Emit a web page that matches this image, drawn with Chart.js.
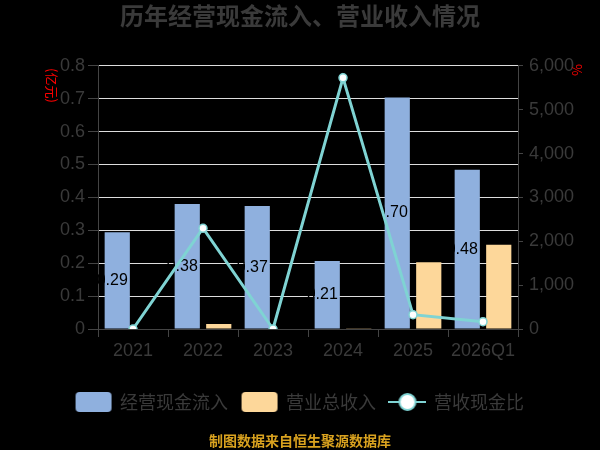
<!DOCTYPE html>
<html>
<head>
<meta charset="utf-8">
<script src="https://cdn.jsdelivr.net/npm/chart.js@4"></script>
<style>
  html, body { margin: 0; padding: 0; background: #000; }
  #wrap { width: 600px; height: 450px; }
</style>
</head>
<body>
<div id="wrap"><canvas id="chart" width="600" height="450"></canvas></div>
<script>
const years = ['2021', '2022', '2023', '2024', '2025', '2026Q1'];
const cashInflow = [0.294, 0.38, 0.374, 0.207, 0.704, 0.484];
const revenue = [0, 0.015, 0, 0.002, 0.203, 0.256];
const cashRatio = [0, 2297, 0, 5726, 326, 167];

const textColor = '#3a3a3a';
const lineColor = '#7fd3d3';

// little canvases used as legend markers
function makeIcon(kind, color) {
  const c = document.createElement('canvas');
  c.width = 38; c.height = 22;
  const ctx = c.getContext('2d');
  if (kind === 'box') {
    ctx.fillStyle = color;
    ctx.beginPath();
    ctx.roundRect(1, 1, 36, 20, 4);
    ctx.fill();
  } else {
    ctx.strokeStyle = color;
    ctx.lineWidth = 2;
    ctx.beginPath();
    ctx.moveTo(0, 11); ctx.lineTo(38, 11);
    ctx.stroke();
    ctx.fillStyle = '#fff';
    ctx.beginPath();
    ctx.arc(19, 11, 8, 0, Math.PI * 2);
    ctx.fill();
    ctx.stroke();
  }
  return c;
}

const icons = [makeIcon('box', '#8fb0de'), makeIcon('box', '#fdd79a'), makeIcon('line', lineColor)];

const barLabels = {
  id: 'barLabels',
  afterDatasetDraw(chart, args) {
    if (args.index !== 0) return;
    const ctx = chart.ctx;
    ctx.save();
    ctx.font = '16px "Liberation Sans", Arial, sans-serif';
    ctx.fillStyle = '#000';
    ctx.textAlign = 'center';
    ctx.textBaseline = 'middle';
    args.meta.data.forEach((bar, i) => {
      ctx.fillText(cashInflow[i].toFixed(2), bar.x - 5, (bar.y + bar.base) / 2);
    });
    ctx.restore();
  }
};

const extras = {
  id: 'extras',
  afterDraw(chart) {
    const ctx = chart.ctx;
    ctx.save();
    ctx.fillStyle = '#ff0000';
    ctx.font = '13px "Noto Sans CJK SC", sans-serif';
    ctx.textAlign = 'left';
    ctx.textBaseline = 'middle';
    ctx.translate(52, 68);
    ctx.rotate(Math.PI / 2);
    ctx.fillText('(亿元)', 0, 0);
    ctx.restore();

    ctx.save();
    ctx.fillStyle = '#ff0000';
    ctx.font = '13px "Noto Sans CJK SC", sans-serif';
    ctx.textBaseline = 'middle';
    ctx.translate(577, 64);
    ctx.rotate(Math.PI / 2);
    ctx.fillText('%', 0, 0);
    ctx.restore();

    ctx.save();
    ctx.fillStyle = '#d9a21f';
    ctx.font = 'bold 14px "Noto Sans CJK SC", sans-serif';
    ctx.textAlign = 'center';
    ctx.textBaseline = 'middle';
    ctx.fillText('制图数据来自恒生聚源数据库', 300, 441);
    ctx.restore();
  }
};

const tickFont = { family: '"Liberation Sans", Arial, sans-serif', size: 18 };

new Chart(document.getElementById('chart'), {
  type: 'bar',
  data: {
    labels: years,
    datasets: [
      {
        label: '经营现金流入',
        data: cashInflow,
        backgroundColor: '#8fb0de',
        yAxisID: 'y',
        order: 1,
        categoryPercentage: 0.9,
        barPercentage: 0.8
      },
      {
        label: '营业总收入',
        data: revenue,
        backgroundColor: '#fdd79a',
        yAxisID: 'y',
        order: 2,
        categoryPercentage: 0.9,
        barPercentage: 0.8
      },
      {
        type: 'line',
        label: '营收现金比',
        data: cashRatio,
        yAxisID: 'y1',
        order: 0,
        borderColor: lineColor,
        borderWidth: 3,
        pointRadius: 4,
        pointBackgroundColor: '#fff',
        pointBorderColor: lineColor,
        pointBorderWidth: 1.5,
        tension: 0
      }
    ]
  },
  options: {
    responsive: false,
    animation: false,
    layout: { padding: { left: 0, right: 0, top: 0, bottom: 29 } },
    plugins: {
      tooltip: { enabled: false },
      title: {
        display: true,
        text: '历年经营现金流入、营业收入情况',
        color: textColor,
        font: { family: '"Noto Sans CJK SC", sans-serif', size: 24, weight: 'bold' },
        padding: { top: 1, bottom: 36 }
      },
      legend: {
        position: 'bottom',
        labels: {
          color: textColor,
          font: { family: '"Noto Sans CJK SC", sans-serif', size: 18 },
          usePointStyle: true,
          pointStyleWidth: 35,
          padding: 14,
          sort: (a, b) => a.datasetIndex - b.datasetIndex,
          generateLabels(chart) {
            return chart.data.datasets.map((ds, i) => ({
              text: ds.label,
              datasetIndex: i,
              pointStyle: icons[i],
              fontColor: textColor,
              lineWidth: 0,
              hidden: false
            }));
          }
        }
      }
    },
    scales: {
      x: {
        grid: { offset: true, drawOnChartArea: false, tickLength: 8, color: '#444' },
        border: { color: '#444' },
        ticks: { color: textColor, font: tickFont, padding: 3, maxRotation: 0, minRotation: 0, autoSkip: false },
        afterFit(scale) { scale.height = 50; }
      },
      y: {
        position: 'left',
        min: 0,
        max: 0.8,
        ticks: { stepSize: 0.1, color: textColor, font: tickFont, padding: 3 },
        grid: {
          color: '#dddddd',
          tickColor: '#444',
          tickLength: 10
        },
        border: { color: '#444' },
        afterFit(scale) { scale.width = 98; }
      },
      y1: {
        position: 'right',
        min: 0,
        max: 6000,
        ticks: {
          stepSize: 1000,
          color: textColor,
          font: tickFont,
          padding: 6,
          callback: v => v.toLocaleString('en-US')
        },
        grid: { drawOnChartArea: false, tickLength: 5, color: '#444' },
        border: { color: '#444' },
        afterFit(scale) { scale.width = 82; }
      }
    }
  },
  plugins: [barLabels, extras]
});
</script>
</body>
</html>
